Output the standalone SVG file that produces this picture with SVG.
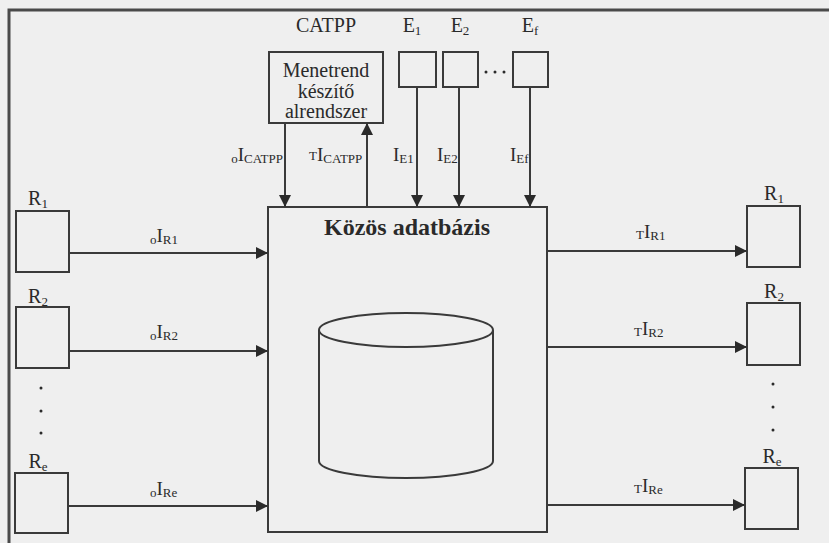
<svg xmlns="http://www.w3.org/2000/svg" width="829" height="543" viewBox="0 0 829 543">
<style>
.bg{fill:#efefef}
.box{fill:none;stroke:#3a3a3a;stroke-width:2}
.frame{fill:none;stroke:#4a4a4a;stroke-width:3}
.ln{fill:none;stroke:#3a3a3a;stroke-width:2}
.t{font-family:"Liberation Serif",serif;fill:#2a2a2a;font-size:20px}
.lb{font-family:"Liberation Serif",serif;fill:#2a2a2a;font-size:19px}
.sub{font-size:13px}
.title{font-family:"Liberation Serif",serif;fill:#2a2a2a;font-size:24px;font-weight:bold}
.dot{fill:#2a2a2a}
</style>
<defs>
<marker id="ah" viewBox="0 0 10 10" refX="10" refY="5" markerWidth="6" markerHeight="6" markerUnits="strokeWidth" orient="auto">
<path d="M0,0 L10,5 L0,10 z" fill="#2a2a2a"/>
</marker>
</defs>
<rect class="bg" x="0" y="0" width="829" height="543"/>
<path class="frame" d="M9,543 V10 H829"/>

<g id="db">
<rect class="box" x="268" y="207" width="279" height="325"/>
<text class="title" x="407" y="235" text-anchor="middle">Közös adatbázis</text>
<path class="box" d="M319,330 V461 A87,17 0 0 0 493,461 V330"/>
<ellipse class="box" cx="406" cy="330" rx="87" ry="17"/>
</g>

<g id="catpp">
<text class="t" x="326" y="32" text-anchor="middle">CATPP</text>
<rect class="box" x="269" y="52" width="114" height="71"/>
<text class="t" x="326" y="77" text-anchor="middle">Menetrend</text>
<text class="t" x="326" y="98" text-anchor="middle">készítő</text>
<text class="t" x="326" y="118" text-anchor="middle">alrendszer</text>
</g>

<g id="e1">
<text class="t" x="412" y="32" text-anchor="middle">E<tspan class="sub" dy="3">1</tspan></text>
<rect class="box" x="399" y="52" width="37" height="35"/>
</g>
<g id="e2">
<text class="t" x="460" y="32" text-anchor="middle">E<tspan class="sub" dy="3">2</tspan></text>
<rect class="box" x="443" y="52" width="35" height="35"/>
</g>
<g id="ef">
<text class="t" x="530" y="32" text-anchor="middle">E<tspan class="sub" dy="3">f</tspan></text>
<rect class="box" x="513" y="52" width="35" height="35"/>
</g>
<g id="edots">
<circle class="dot" cx="486" cy="72" r="1.5"/>
<circle class="dot" cx="495" cy="72" r="1.5"/>
<circle class="dot" cx="504" cy="72" r="1.5"/>
</g>

<g id="rl1">
<text class="t" x="38" y="205" text-anchor="middle">R<tspan class="sub" dy="3">1</tspan></text>
<rect class="box" x="16" y="211" width="53" height="61"/>
</g>
<g id="rl2">
<text class="t" x="38" y="303" text-anchor="middle">R<tspan class="sub" dy="3">2</tspan></text>
<rect class="box" x="16" y="307" width="53" height="61"/>
</g>
<g id="rle">
<text class="t" x="38" y="468" text-anchor="middle">R<tspan class="sub" dy="3">e</tspan></text>
<rect class="box" x="15" y="473" width="53" height="60"/>
</g>
<g id="ldots">
<circle class="dot" cx="41" cy="388" r="1.5"/>
<circle class="dot" cx="41" cy="411" r="1.5"/>
<circle class="dot" cx="41" cy="433" r="1.5"/>
</g>

<g id="rr1">
<text class="t" x="774" y="200" text-anchor="middle">R<tspan class="sub" dy="3">1</tspan></text>
<rect class="box" x="747" y="206" width="53" height="61"/>
</g>
<g id="rr2">
<text class="t" x="774" y="298" text-anchor="middle">R<tspan class="sub" dy="3">2</tspan></text>
<rect class="box" x="747" y="303" width="53" height="62"/>
</g>
<g id="rre">
<text class="t" x="772" y="463" text-anchor="middle">R<tspan class="sub" dy="3">e</tspan></text>
<rect class="box" x="745" y="468" width="53" height="61"/>
</g>
<g id="rdots">
<circle class="dot" cx="773" cy="384" r="1.5"/>
<circle class="dot" cx="773" cy="407" r="1.5"/>
<circle class="dot" cx="773" cy="430" r="1.5"/>
</g>

<g id="connectors">
<line class="ln" x1="285" y1="123" x2="285" y2="207" marker-end="url(#ah)"/>
<line class="ln" x1="367" y1="207" x2="367" y2="123" marker-end="url(#ah)"/>
<line class="ln" x1="417" y1="87" x2="417" y2="207" marker-end="url(#ah)"/>
<line class="ln" x1="459" y1="87" x2="459" y2="207" marker-end="url(#ah)"/>
<line class="ln" x1="530" y1="87" x2="530" y2="207" marker-end="url(#ah)"/>
<line class="ln" x1="69" y1="253" x2="268" y2="253" marker-end="url(#ah)"/>
<line class="ln" x1="69" y1="351" x2="268" y2="351" marker-end="url(#ah)"/>
<line class="ln" x1="68" y1="506" x2="268" y2="506" marker-end="url(#ah)"/>
<line class="ln" x1="547" y1="251" x2="747" y2="251" marker-end="url(#ah)"/>
<line class="ln" x1="547" y1="347" x2="747" y2="347" marker-end="url(#ah)"/>
<line class="ln" x1="547" y1="505" x2="745" y2="505" marker-end="url(#ah)"/>

<text class="lb" x="283" y="161" text-anchor="end"><tspan class="sub" dy="2">o</tspan><tspan dy="-2">I</tspan><tspan class="sub" dy="2">CATPP</tspan></text>
<text class="lb" x="309" y="161"><tspan class="sub" dy="-1">T</tspan><tspan dy="1">I</tspan><tspan class="sub" dy="2">CATPP</tspan></text>
<text class="lb" x="393" y="161">I<tspan class="sub" dy="2">E1</tspan></text>
<text class="lb" x="437" y="161">I<tspan class="sub" dy="2">E2</tspan></text>
<text class="lb" x="510" y="161">I<tspan class="sub" dy="2">Ef</tspan></text>
<text class="lb" x="150" y="242"><tspan class="sub" dy="2">o</tspan><tspan dy="-2">I</tspan><tspan class="sub" dy="2">R1</tspan></text>
<text class="lb" x="150" y="338"><tspan class="sub" dy="2">o</tspan><tspan dy="-2">I</tspan><tspan class="sub" dy="2">R2</tspan></text>
<text class="lb" x="150" y="495"><tspan class="sub" dy="2">o</tspan><tspan dy="-2">I</tspan><tspan class="sub" dy="2">Re</tspan></text>
<text class="lb" x="636" y="238"><tspan class="sub" dy="1">T</tspan><tspan dy="-1">I</tspan><tspan class="sub" dy="2">R1</tspan></text>
<text class="lb" x="634" y="335"><tspan class="sub" dy="1">T</tspan><tspan dy="-1">I</tspan><tspan class="sub" dy="2">R2</tspan></text>
<text class="lb" x="634" y="492"><tspan class="sub" dy="1">T</tspan><tspan dy="-1">I</tspan><tspan class="sub" dy="2">Re</tspan></text>
</g>
</svg>
